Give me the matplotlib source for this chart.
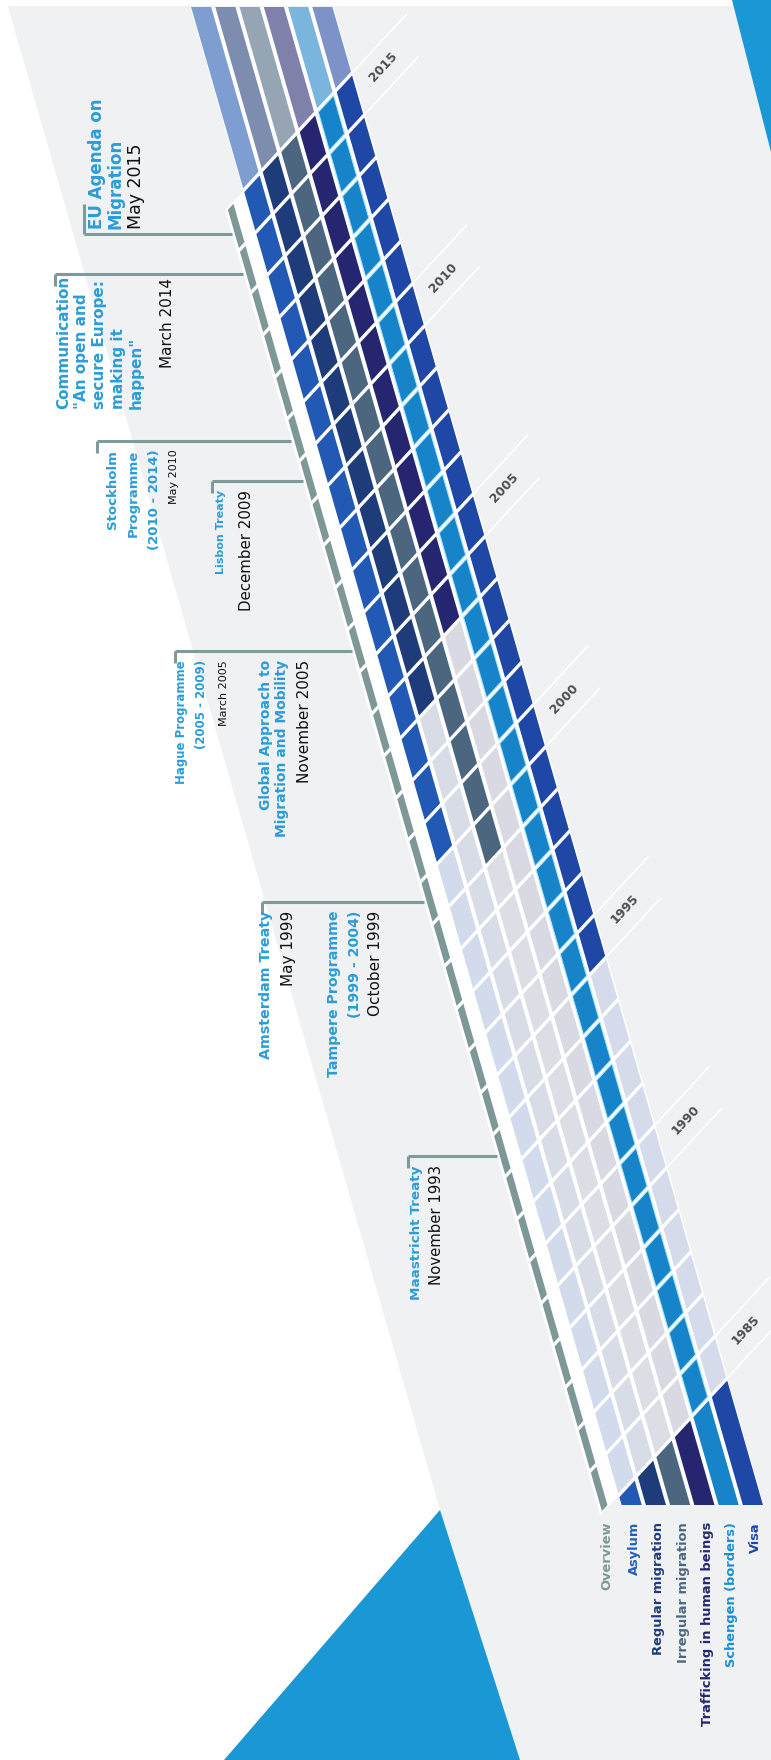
import numpy as np
import matplotlib
matplotlib.use('Agg')
import matplotlib.pyplot as plt
from matplotlib.patches import Rectangle, Polygon
from matplotlib.transforms import Affine2D
from matplotlib.colors import to_rgb

# policy areas (bottom labels) and the first year each one is filled in
areas = ['Overview', 'Asylum', 'Regular migration', 'Irregular migration',
         'Trafficking in human beings', 'Schengen (borders)', 'Visa']
first_active = [1985, 2000, 2003, 1999, 2004, 1985, 1995]
years = list(range(1985, 2016))
year_ticks = [1985, 1990, 1995, 2000, 2005, 2010, 2015]

milestone_titles = [
    'EU Agenda on\nMigration',
    'Communication\n"An open and\nsecure Europe:\nmaking it\nhappen"',
    'Stockholm\nProgramme\n(2010 - 2014)',
    'Lisbon Treaty',
    'Hague Programme\n(2005 - 2009)',
    'Global Approach to\nMigration and Mobility',
    'Amsterdam Treaty',
    'Tampere Programme\n(1999 - 2004)',
    'Maastricht Treaty',
]
milestone_dates = ['May 2015', 'March 2014', 'May 2010', 'December 2009', 'March 2005',
                   'November 2005', 'May 1999', 'October 1999', 'November 1993']
# where each connector meets the overview stripe (fractional year)
milestone_at = [2015.3, 2014.35, 2010.4, 2009.45, 2005.4, 2005.4, 1999.45, 1999.45, 1993.4]

area_colors = ['#7e9797', '#2159b5', '#1e3b7a', '#4c6680', '#25266f', '#1784c9', '#1f47a5']
idle_colors = ['#7e9797', '#d2dbeb', '#d8dce6', '#dcdee5', '#d9d9e3', '#d3dbe9', '#d5dbea']
label_colors = ['#7e9797', '#2060bb', '#1e3b7a', '#4c6680', '#25266f', '#1a8fd3', '#1f47a5']
BG = '#f0f1f3'
TITLE = '#2a9dd8'
CONNECTOR = '#7f9a9a'

# text layout: title x, date x, title size, date size, line spacing, side, connector start, tick
layout = [
    (88, 127, 12, 12.5, 1.03, 'above', 84, -30),
    (56, 160, 11, 11, 1.27, 'split', 55, 12),
    (106, 169, 9.5, 8, 1.8, 'below', 97, 12),
    (216, 239, 8, 10.8, 1.0, 'below', 212, 12),
    (175, 219, 8.5, 8, 1.75, 'below', 175, 12),
    (259, 297, 10, 11, 1.2, 'below', None, 0),
    (259, 281, 10.3, 11, 1.0, 'below', 262, 12),
    (327, 368, 10.2, 11, 1.6, 'below', None, 0),
    (410, 429, 9.7, 10.7, 1.0, 'below', 408, 12),
]

W, H = 771, 1760
fig = plt.figure(figsize=(W / 100, H / 100), dpi=100)
fig.patch.set_facecolor(BG)
ax = fig.add_axes([0, 0, 1, 1])
ax.set_xlim(0, W)
ax.set_ylim(H, 0)
ax.axis('off')

# (year, row) -> picture pixels: rows run down a steep slant, years climb it
step_year = np.array([-12.1, -42.1])
step_row = np.array([18.5, -20.0])
origin = np.array([719.0, 1387.0]) - 1985 * step_year - 6 * step_row
skew = Affine2D(np.array([[step_year[0], step_row[0], origin[0]],
                          [step_year[1], step_row[1], origin[1]],
                          [0, 0, 1]]))
T = skew + ax.transData

row_v = [-0.15, 1, 2, 3, 4, 5, 6]
half = [0.15] + [0.415] * 6
gu = 0.045
top_cut, bottom_cut = 7, 1505


def at(year, row):
    return skew.transform([(year, row)])[0]


def year_at_height(py, row):
    return (py - origin[1] - row * step_row[1]) / step_year[1]


def blend(c, a):
    c, b = np.array(to_rgb(c)), np.array(to_rgb(BG))
    return tuple(a * c + (1 - a) * b)


# background shapes
ax.add_patch(Polygon([(0, 0), (6, 0), (440, 1510), (224, 1760), (0, 1760)],
                     fc='white', lw=0, zorder=0))
ax.add_patch(Polygon([(440, 1510), (224, 1760), (520, 1760)], fc='#1a98d5', lw=0, zorder=0))
ax.add_patch(Rectangle((0, 0), W, top_cut - 1, fc='white', lw=0, zorder=0))
ax.add_patch(Polygon([(732, 0), (771, 0), (771, 152)], fc='#1a98d5', lw=0, zorder=0))

# white bed under the grid, the faded stripes and the stubs
ax.add_patch(Rectangle((1985, -0.42), 31, 6.9, transform=T, fc='white', lw=0, zorder=1))
lo, hi = 0.55, 6.45
ax.add_patch(Polygon([(2016, lo), (2016, hi), (year_at_height(top_cut, hi), hi),
                      (year_at_height(top_cut, lo), lo)], transform=T, fc='white', lw=0, zorder=1))
ax.add_patch(Polygon([(1985, hi), (1985, lo), (year_at_height(bottom_cut, lo), lo),
                      (year_at_height(bottom_cut, hi), hi)], transform=T, fc='white', lw=0, zorder=1))

for i, name in enumerate(areas):
    v0, v1 = row_v[i] - half[i], row_v[i] + half[i]
    for yr in years:
        on = yr >= first_active[i]
        col = area_colors[i] if on else idle_colors[i]
        edge = '#a8e4fa' if i == 5 else 'none'
        ax.add_patch(Rectangle((yr + gu, v0), 1 - 2 * gu, v1 - v0, transform=T,
                               fc=col, ec=edge, lw=0.8 if i == 5 else 0, zorder=2))
    if i == 0:
        continue
    # faded continuation above 2015
    ax.add_patch(Polygon([(2016 + gu, v0), (2016 + gu, v1),
                          (year_at_height(top_cut, v1), v1), (year_at_height(top_cut, v0), v0)],
                         transform=T, fc=blend(area_colors[i], 0.55), lw=0, zorder=2))
    # colour stub below 1985
    ax.add_patch(Polygon([(1985 - gu, v1), (1985 - gu, v0),
                          (year_at_height(bottom_cut, v0), v0), (year_at_height(bottom_cut, v1), v1)],
                         transform=T, fc=area_colors[i], lw=0, zorder=2))

# year marks on the right of the grid
ang = np.degrees(np.arctan2(-step_row[1], step_row[0]))
for yr in year_ticks:
    for b in (yr, yr + 1):
        ax.plot([b, b], [6.45, 9.4], transform=T, color='white', lw=1.2,
                solid_capstyle='butt', zorder=1.5)
    x, y = at(yr + 0.5, 7.8)
    ax.text(x, y, str(yr), rotation=ang, rotation_mode='anchor', ha='center', va='center',
            fontsize=9, fontweight='bold', color='#4d4d4d', zorder=3)

# milestones
for k, when in enumerate(milestone_at):
    xt, xd, fst, fsd, ls, side, x0, tick = layout[k]
    _, y_line = at(when, row_v[0])
    edge_v = row_v[0] - half[0]
    x_end = at(year_at_height(y_line, edge_v), edge_v)[0] - 3
    if x0 is not None:
        ax.plot([x0, x_end], [y_line, y_line], color=CONNECTOR, lw=2.2,
                solid_capstyle='butt', zorder=3)
        ax.plot([x0, x0], [y_line, y_line + tick], color=CONNECTOR, lw=2.2,
                solid_capstyle='butt', zorder=3)
    title, date = milestone_titles[k], milestone_dates[k]
    if side == 'above':
        ax.text(xt, y_line - 5, title, rotation=90, ha='left', va='bottom', multialignment='left',
                fontsize=fst, fontweight='bold', color=TITLE, linespacing=ls, zorder=3)
        ax.text(xd, y_line - 5, date, rotation=90, ha='left', va='bottom',
                fontsize=fsd, color='#111111', zorder=3)
    elif side == 'split':
        ax.text(xt, y_line + 135, title, rotation=90, ha='left', va='bottom', multialignment='left',
                fontsize=fst, fontweight='bold', color=TITLE, linespacing=ls, zorder=3)
        ax.text(xd, y_line + 4, date, rotation=90, ha='left', va='top',
                fontsize=fsd, color='#111111', zorder=3)
    else:
        ax.text(xt, y_line + 9, title, rotation=90, ha='left', va='top', multialignment='right',
                fontsize=fst, fontweight='bold', color=TITLE, linespacing=ls, zorder=3)
        ax.text(xd, y_line + 9, date, rotation=90, ha='left', va='top',
                fontsize=fsd, color='#111111', zorder=3)

# area names under the stripes
for i, name in enumerate(areas):
    yr = year_at_height(1522, row_v[i])
    x = at(yr, row_v[i])[0] - 2
    ax.text(x, 1522, name, rotation=90, ha='center', va='top', fontsize=9.4,
            fontweight='bold', color=label_colors[i], zorder=3)

fig.savefig('out.png', dpi=100, facecolor=fig.get_facecolor())
plt.close(fig)
